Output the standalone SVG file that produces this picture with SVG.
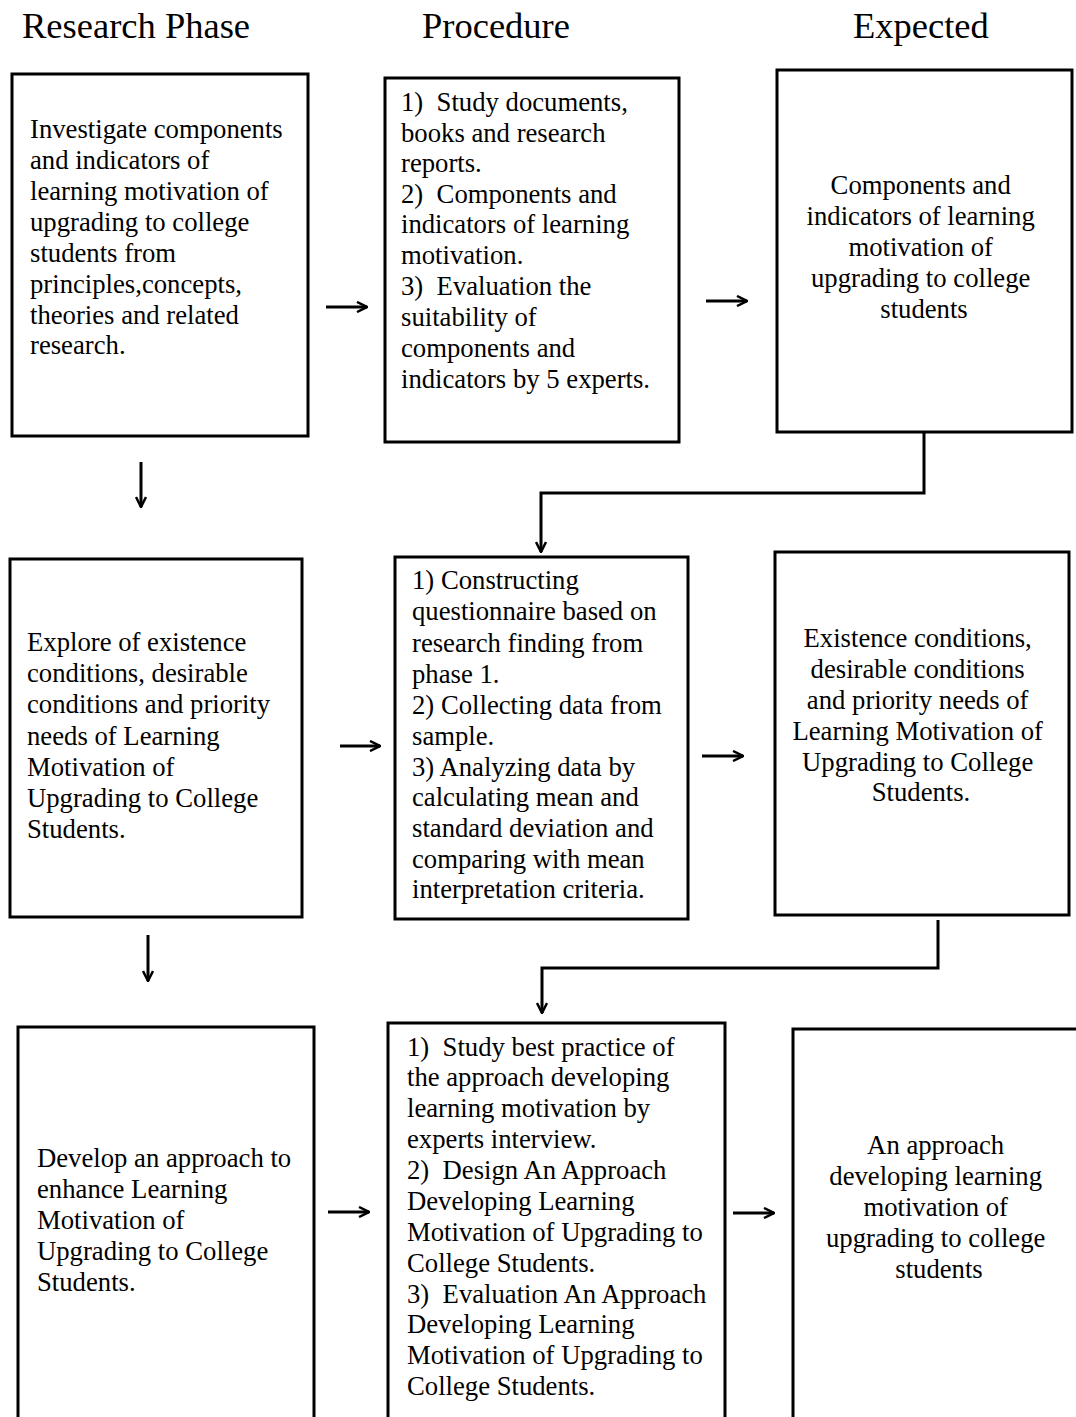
<svg xmlns="http://www.w3.org/2000/svg" width="1076" height="1417" viewBox="0 0 1076 1417">
  <style>
    .box { fill: #fff; stroke: #000; stroke-width: 3; }
    .hdr { font-family: "Liberation Serif", "Times New Roman", serif; font-size: 36.5px; fill: #000; }
    .txt { font-family: "Liberation Serif", "Times New Roman", serif; font-size: 26.7px; fill: #000; }
    .mid { text-anchor: middle; }
    .link { fill: none; stroke: #000; stroke-width: 3; }
    .arr { fill: none; stroke: #000; stroke-width: 3; }
  </style>
  <defs>
    <marker id="head" viewBox="0 0 12 12" refX="11" refY="6" markerWidth="12" markerHeight="12" markerUnits="userSpaceOnUse" orient="auto">
      <path d="M1,1 L11,6 L1,11" fill="none" stroke="#000" stroke-width="2.5"/>
    </marker>
  </defs>
  <rect width="1076" height="1417" fill="#fff"/>

  <!-- column headings -->
  <text class="hdr" x="22" y="38">Research Phase</text>
  <text class="hdr" x="422" y="38">Procedure</text>
  <text class="hdr" x="853" y="38">Expected</text>

  <!-- phase 1 -->
  <g id="phase1">
    <rect class="box" x="12" y="74" width="296" height="362"/>
    <text class="txt">
      <tspan x="30" y="138">Investigate components</tspan>
      <tspan x="30" y="169">and indicators of</tspan>
      <tspan x="30" y="200">learning motivation of</tspan>
      <tspan x="30" y="231">upgrading to college</tspan>
      <tspan x="30" y="262">students from</tspan>
      <tspan x="30" y="293">principles,concepts,</tspan>
      <tspan x="30" y="324">theories and related</tspan>
      <tspan x="30" y="354">research.</tspan>
    </text>
  </g>
  <g id="procedure1">
    <rect class="box" x="385" y="78" width="294" height="364"/>
    <text class="txt" xml:space="preserve">
      <tspan x="401" y="111">1)  Study documents,</tspan>
      <tspan x="401" y="142">books and research</tspan>
      <tspan x="401" y="172">reports.</tspan>
      <tspan x="401" y="203">2)  Components and</tspan>
      <tspan x="401" y="233">indicators of learning</tspan>
      <tspan x="401" y="264">motivation.</tspan>
      <tspan x="401" y="295">3)  Evaluation the</tspan>
      <tspan x="401" y="326">suitability of</tspan>
      <tspan x="401" y="357">components and</tspan>
      <tspan x="401" y="388">indicators by 5 experts.</tspan>
    </text>
  </g>
  <g id="expected1">
    <rect class="box" x="777" y="70" width="295" height="362"/>
    <text class="txt mid">
      <tspan x="924" y="194">Components and</tspan>
      <tspan x="924" y="225">indicators of learning</tspan>
      <tspan x="924" y="256">motivation of</tspan>
      <tspan x="924" y="287">upgrading to college</tspan>
      <tspan x="924" y="318">students</tspan>
    </text>
  </g>

  <!-- phase 2 -->
  <g id="phase2">
    <rect class="box" x="10" y="559" width="292" height="358"/>
    <text class="txt">
      <tspan x="27" y="651">Explore of existence</tspan>
      <tspan x="27" y="682">conditions, desirable</tspan>
      <tspan x="27" y="713">conditions and priority</tspan>
      <tspan x="27" y="745">needs of Learning</tspan>
      <tspan x="27" y="776">Motivation of</tspan>
      <tspan x="27" y="807">Upgrading to College</tspan>
      <tspan x="27" y="838">Students.</tspan>
    </text>
  </g>
  <g id="procedure2">
    <rect class="box" x="395" y="557" width="293" height="362"/>
    <text class="txt">
      <tspan x="412" y="589">1) Constructing</tspan>
      <tspan x="412" y="620">questionnaire based on</tspan>
      <tspan x="412" y="652">research finding from</tspan>
      <tspan x="412" y="683">phase 1.</tspan>
      <tspan x="412" y="714">2) Collecting data from</tspan>
      <tspan x="412" y="745">sample.</tspan>
      <tspan x="412" y="776">3) Analyzing data by</tspan>
      <tspan x="412" y="806">calculating mean and</tspan>
      <tspan x="412" y="837">standard deviation and</tspan>
      <tspan x="412" y="868">comparing with mean</tspan>
      <tspan x="412" y="898">interpretation criteria.</tspan>
    </text>
  </g>
  <g id="expected2">
    <rect class="box" x="775" y="552" width="294" height="363"/>
    <text class="txt mid">
      <tspan x="921" y="647">Existence conditions,</tspan>
      <tspan x="921" y="678">desirable conditions</tspan>
      <tspan x="921" y="709">and priority needs of</tspan>
      <tspan x="921" y="740">Learning Motivation of</tspan>
      <tspan x="921" y="771">Upgrading to College</tspan>
      <tspan x="921" y="801">Students.</tspan>
    </text>
  </g>

  <!-- phase 3 (boxes run past the lower edge) -->
  <g id="phase3">
    <rect class="box" x="18" y="1027" width="296" height="420"/>
    <text class="txt">
      <tspan x="37" y="1167">Develop an approach to</tspan>
      <tspan x="37" y="1198">enhance Learning</tspan>
      <tspan x="37" y="1229">Motivation of</tspan>
      <tspan x="37" y="1260">Upgrading to College</tspan>
      <tspan x="37" y="1291">Students.</tspan>
    </text>
  </g>
  <g id="procedure3">
    <rect class="box" x="388" y="1023" width="337" height="424"/>
    <text class="txt" xml:space="preserve">
      <tspan x="407" y="1056">1)  Study best practice of</tspan>
      <tspan x="407" y="1086">the approach developing</tspan>
      <tspan x="407" y="1117">learning motivation by</tspan>
      <tspan x="407" y="1148">experts interview.</tspan>
      <tspan x="407" y="1179">2)  Design An Approach</tspan>
      <tspan x="407" y="1210">Developing Learning</tspan>
      <tspan x="407" y="1241">Motivation of Upgrading to</tspan>
      <tspan x="407" y="1272">College Students.</tspan>
      <tspan x="407" y="1303">3)  Evaluation An Approach</tspan>
      <tspan x="407" y="1333">Developing Learning</tspan>
      <tspan x="407" y="1364">Motivation of Upgrading to</tspan>
      <tspan x="407" y="1395">College Students.</tspan>
    </text>
  </g>
  <g id="expected3">
    <rect class="box" x="793" y="1029" width="300" height="420"/>
    <text class="txt mid">
      <tspan x="939" y="1154">An approach</tspan>
      <tspan x="939" y="1185">developing learning</tspan>
      <tspan x="939" y="1216">motivation of</tspan>
      <tspan x="939" y="1247">upgrading to college</tspan>
      <tspan x="939" y="1278">students</tspan>
    </text>
  </g>

  <!-- connectors -->
  <g id="connectors">
    <path class="arr" d="M326,307 H367" marker-end="url(#head)"/>
    <path class="arr" d="M706,301 H747" marker-end="url(#head)"/>
    <path class="arr" d="M141,462 V507" marker-end="url(#head)"/>
    <path class="link" d="M924,432 V493 H541 V552" marker-end="url(#head)"/>

    <path class="arr" d="M340,746 H380" marker-end="url(#head)"/>
    <path class="arr" d="M702,756 H743" marker-end="url(#head)"/>
    <path class="arr" d="M148,935 V981" marker-end="url(#head)"/>
    <path class="link" d="M938,920 V968 H542 V1013" marker-end="url(#head)"/>

    <path class="arr" d="M328,1212 H369" marker-end="url(#head)"/>
    <path class="arr" d="M733,1213 H774" marker-end="url(#head)"/>
  </g>
</svg>
